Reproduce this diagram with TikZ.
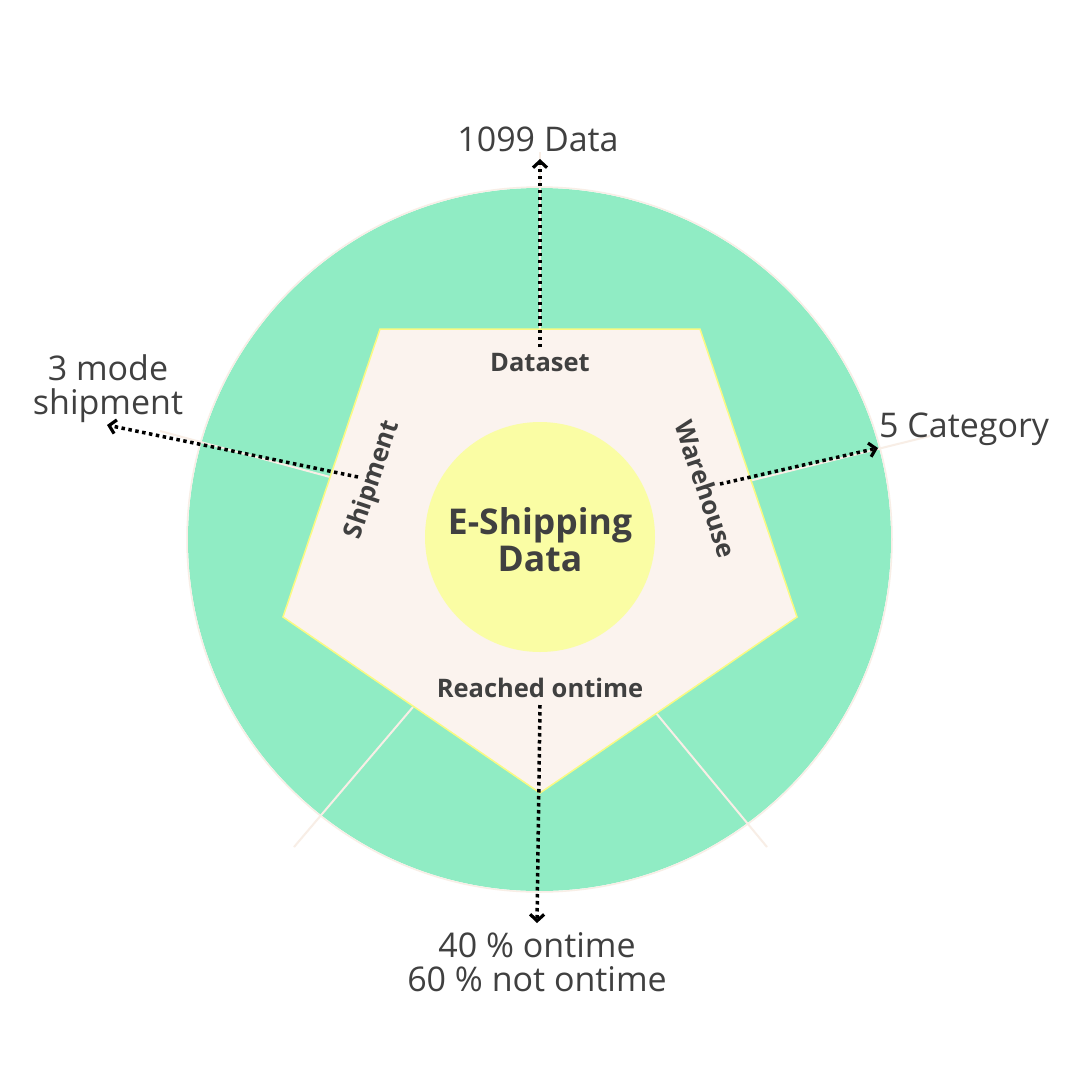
\documentclass[tikz,border=0pt]{standalone}
\usepackage{fontspec}
\setmainfont{Open Sans}
\usetikzlibrary{arrows.meta}
\definecolor{ringgreen}{RGB}{144,236,196}
\definecolor{pentfill}{RGB}{251,243,238}
\definecolor{pentline}{RGB}{250,250,130}
\definecolor{coreyellow}{RGB}{250,253,164}
\definecolor{txt}{RGB}{64,64,64}
\definecolor{spoke}{RGB}{248,238,230}
\tikzset{
  x=1pt, y=-1pt,
  outer/.style={font=\fontsize{34}{34}\selectfont, text=txt, align=center, inner sep=0pt},
  side/.style={font=\bfseries\fontsize{25.5}{26}\selectfont, text=txt, inner sep=0pt},
  dotarrow/.style={draw=black, line width=3.5pt, dash pattern=on 3.5pt off 3.5pt, -{Straight Barb[length=6.5pt,width=14pt,line width=3.2pt]}},
  spokeline/.style={draw=spoke, line width=2pt}
}
\begin{document}
\begin{tikzpicture}
\useasboundingbox (0,0) rectangle (1080,1080);
\fill[white] (0,0) rectangle (1080,1080);
% outer ring
\fill[ringgreen] (539.5,539.5) circle[radius=351.5];
\draw[spoke, line width=1.5pt] (539.5,539.5) circle[radius=352.5];
% spokes
\coordinate (sT1) at (540,329); \coordinate (sT2) at (540,152);
\coordinate (sL1) at (330,477); \coordinate (sL2) at (160,431);
\coordinate (sR1) at (749,481); \coordinate (sR2) at (930,436);
\coordinate (sBL1) at (413,707); \coordinate (sBL2) at (294,847);
\coordinate (sBR1) at (656,713); \coordinate (sBR2) at (767,847);
\foreach \a/\b in {sT1/sT2,sL1/sL2,sR1/sR2,sBL1/sBL2,sBR1/sBR2}
  \draw[spokeline] (\a) -- (\b);
% pentagon
\coordinate (pTL) at (380,329);
\coordinate (pTR) at (700,329);
\coordinate (pR) at (797,617);
\coordinate (pB) at (540,793);
\coordinate (pL) at (283,617);
\draw[fill=pentfill, draw=pentline, line width=1.5pt] (pTL) -- (pTR) -- (pR) -- (pB) -- (pL) -- cycle;
% core
\node[circle, fill=coreyellow, minimum size=230pt, inner sep=0pt] (core) at (540,537) {};
\node[font=\bfseries\fontsize{35.5}{37}\selectfont, text=txt, align=center] (title) at (540,540) {E-Shipping\\Data};
% side labels
\node[side] (dataset) at (540,363) {Dataset};
\node[side] (reached) at (540,688) {Reached ontime};
\node[side, rotate=71.4] (shipment) at (373,480) {Shipment};
\node[side, rotate=-71.4] (warehouse) at (706,489) {Warehouse};
% outer labels
\node[outer] (data1099) at (538,139) {1099 Data};
\node[outer] (mode) at (108,389) {3 mode\\shipment};
\node[outer, anchor=west] (category) at (879,429) {5 Category};
\node[outer] (ontime) at (537,962) {40 \% ontime\\60 \% not ontime};
% arrow anchors
\coordinate (aL) at (358,477);
\coordinate (aLe) at (107,425);
\coordinate (aR) at (720,484);
\coordinate (aRe) at (878,448);
\coordinate (aT) at (540,347);
\coordinate (aTe) at (540,159);
\coordinate (aB) at (540,705);
\coordinate (aBe) at (537,923);
\draw[dotarrow] (aT) -- (aTe);
\draw[dotarrow] (aB) -- (aBe);
\draw[dotarrow] (aL) -- (aLe);
\draw[dotarrow] (aR) -- (aRe);
\end{tikzpicture}
\end{document}
